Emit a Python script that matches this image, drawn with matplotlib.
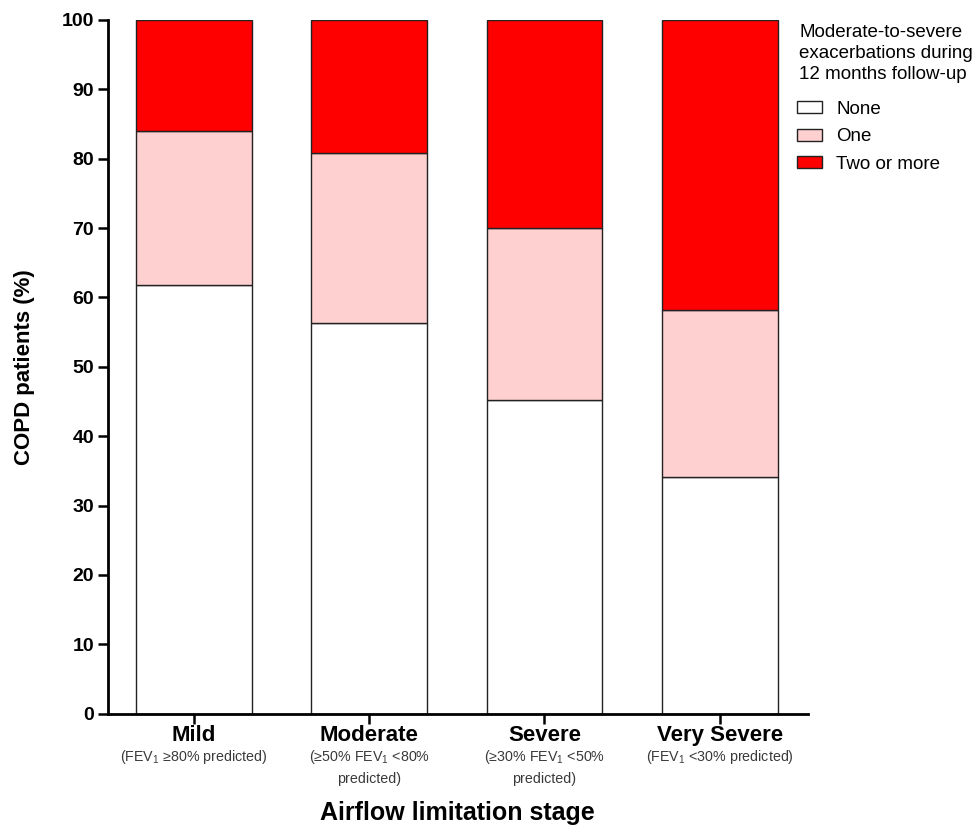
import matplotlib.pyplot as plt
import numpy as np

plt.rcParams['font.family'] = ['Liberation Sans', 'DejaVu Sans']
plt.rcParams['mathtext.fontset'] = 'custom'
plt.rcParams['mathtext.rm'] = 'Liberation Sans'
plt.rcParams['mathtext.it'] = 'Liberation Sans'

stages = ['Mild', 'Moderate', 'Severe', 'Very Severe']
stage_notes = ['(FEV$_1$ ≥80% predicted)',
               '(≥50% FEV$_1$ <80%\npredicted)',
               '(≥30% FEV$_1$ <50%\npredicted)',
               '(FEV$_1$ <30% predicted)']
none_pct = [61.8, 56.3, 45.2, 34.1]
one_pct = [22.2, 24.5, 24.8, 24.1]
two_plus_pct = [16.0, 19.2, 30.0, 41.8]

series_names = ['None', 'One', 'Two or more']
series_colors = ['#FFFFFF', '#FFD0D0', '#FF0000']
legend_title = 'Moderate-to-severe\nexacerbations during\n12 months follow-up'

fig = plt.figure(figsize=(9.8, 8.27), dpi=100)
ax = fig.add_axes([0.110, 0.137, 0.714, 0.839])

x = np.arange(len(stages))
bottom = np.zeros(len(stages))
for vals, name, col in zip([none_pct, one_pct, two_plus_pct], series_names, series_colors):
    ax.bar(x, vals, width=0.66, bottom=bottom, color=col, edgecolor='#222222',
           linewidth=1.0, label=name)
    bottom += np.array(vals)

ax.set_ylim(0, 100)
ax.set_xlim(-0.49, 3.5)
ax.set_yticks(np.arange(0, 101, 10))
ax.set_xticks(x)
ax.set_xticklabels([''] * len(stages))
for lbl in ax.get_yticklabels():
    lbl.set_fontweight('bold')
    lbl.set_fontsize(14)
ax.tick_params(axis='both', direction='out', length=7, width=1.8)
ax.tick_params(axis='y', pad=3)
for side in ['top', 'right']:
    ax.spines[side].set_visible(False)
for side in ['left', 'bottom']:
    ax.spines[side].set_linewidth(2)

# stage names with the FEV1 ranges underneath
for i, (name, note) in enumerate(zip(stages, stage_notes)):
    ax.annotate(name, xy=(i, 0), xycoords=('data', 'axes fraction'),
                xytext=(0, -19.5), textcoords='offset points',
                ha='center', va='baseline', fontsize=16, fontweight='bold')
    ax.annotate(note, xy=(i, 0), xycoords=('data', 'axes fraction'),
                xytext=(0, -24.5), textcoords='offset points',
                ha='center', va='top', fontsize=10.3, color='#3a3a3a',
                linespacing=1.55)

ax.set_ylabel('COPD patients (%)', fontsize=16, fontweight='bold')
ax.yaxis.set_label_coords(-0.104, 0.5)
fig.text(0.467, 0.008, 'Airflow limitation stage', ha='center', va='baseline',
         fontsize=18, fontweight='bold')

fig.text(799 / 980, 1 - 24 / 827, legend_title, ha='left', va='top',
         fontsize=13.5, linespacing=1.3)
leg = ax.legend(loc='upper left', bbox_to_anchor=(797 / 980, 1 - 101 / 827),
                bbox_transform=fig.transFigure, frameon=False, fontsize=13.5,
                handlelength=1.35, handleheight=0.6, handletextpad=0.75,
                labelspacing=0.55, borderpad=0, borderaxespad=0)
for h in leg.legend_handles:
    h.set_edgecolor('#222222')

fig.savefig('out.png', dpi=100)
